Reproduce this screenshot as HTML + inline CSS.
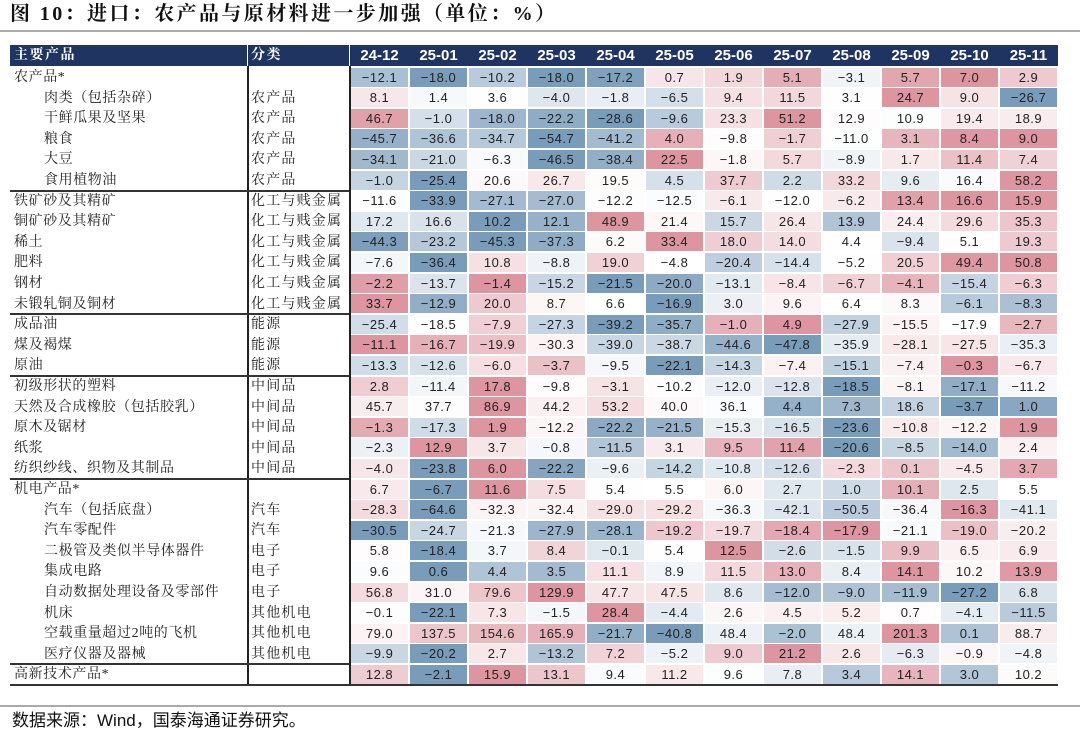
<!DOCTYPE html>
<html><head><meta charset="utf-8">
<style>
body{margin:0;width:1080px;height:733px;background:#fff;position:relative;overflow:hidden;font-family:"Liberation Sans","Noto Sans CJK SC",sans-serif;}
.a{position:absolute;}
.c{position:absolute;font-size:13px;line-height:20px;color:#222;white-space:nowrap;}
.n{text-align:center;letter-spacing:0.5px;}
.h{position:absolute;color:#fff;font-weight:bold;font-size:14px;line-height:21px;}
</style></head><body>
<div class="a" style="left:10px;top:1px;font-size:20px;letter-spacing:2.4px;font-weight:bold;line-height:27px;font-family:'Liberation Serif','Noto Serif CJK SC',serif;color:#111">图 10：进口：农产品与原材料进一步加强（单位：%）</div>
<div class="a" style="left:0;top:30px;width:1080px;height:2px;background:#aaa"></div>
<div class="a" id="tbl" style="left:0;top:0;width:1080px;height:733px"></div>
<div class="a" style="left:0;top:705px;width:1080px;height:2px;background:#aaa"></div>
<div class="a" style="left:12px;top:709px;font-size:17px;line-height:24px;color:#111">数据来源：Wind，国泰海通证券研究。</div>
<script>
const months=["24-12","25-01","25-02","25-03","25-04","25-05","25-06","25-07","25-08","25-09","25-10","25-11"];
const products=["农产品*","肉类（包括杂碎）","干鲜瓜果及坚果","粮食","大豆","食用植物油","铁矿砂及其精矿","铜矿砂及其精矿","稀土","肥料","钢材","未锻轧铜及铜材","成品油","煤及褐煤","原油","初级形状的塑料","天然及合成橡胶（包括胶乳）","原木及锯材","纸浆","纺织纱线、织物及其制品","机电产品*","汽车（包括底盘）","汽车零配件","二极管及类似半导体器件","集成电路","自动数据处理设备及零部件","机床","空载重量超过2吨的飞机","医疗仪器及器械","高新技术产品*"];
const indented=[false,true,true,true,true,true,false,false,false,false,false,false,false,false,false,false,false,false,false,false,false,true,true,true,true,true,true,true,true,false];
const categories=["","农产品","农产品","农产品","农产品","农产品","化工与贱金属","化工与贱金属","化工与贱金属","化工与贱金属","化工与贱金属","化工与贱金属","能源","能源","能源","中间品","中间品","中间品","中间品","中间品","","汽车","汽车","电子","电子","电子","其他机电","其他机电","其他机电",""];
const values=[
[-12.1,-18.0,-10.2,-18.0,-17.2,0.7,1.9,5.1,-3.1,5.7,7.0,2.9],
[8.1,1.4,3.6,-4.0,-1.8,-6.5,9.4,11.5,3.1,24.7,9.0,-26.7],
[46.7,-1.0,-18.0,-22.2,-28.6,-9.6,23.3,51.2,12.9,10.9,19.4,18.9],
[-45.7,-36.6,-34.7,-54.7,-41.2,4.0,-9.8,-1.7,-11.0,3.1,8.4,9.0],
[-34.1,-21.0,-6.3,-46.5,-38.4,22.5,-1.8,5.7,-8.9,1.7,11.4,7.4],
[-1.0,-25.4,20.6,26.7,19.5,4.5,37.7,2.2,33.2,9.6,16.4,58.2],
[-11.6,-33.9,-27.1,-27.0,-12.2,-12.5,-6.1,-12.0,-6.2,13.4,16.6,15.9],
[17.2,16.6,10.2,12.1,48.9,21.4,15.7,26.4,13.9,24.4,29.6,35.3],
[-44.3,-23.2,-45.3,-37.3,6.2,33.4,18.0,14.0,4.4,-9.4,5.1,19.3],
[-7.6,-36.4,10.8,-8.8,19.0,-4.8,-20.4,-14.4,-5.2,20.5,49.4,50.8],
[-2.2,-13.7,-1.4,-15.2,-21.5,-20.0,-13.1,-8.4,-6.7,-4.1,-15.4,-6.3],
[33.7,-12.9,20.0,8.7,6.6,-16.9,3.0,9.6,6.4,8.3,-6.1,-8.3],
[-25.4,-18.5,-7.9,-27.3,-39.2,-35.7,-1.0,4.9,-27.9,-15.5,-17.9,-2.7],
[-11.1,-16.7,-19.9,-30.3,-39.0,-38.7,-44.6,-47.8,-35.9,-28.1,-27.5,-35.3],
[-13.3,-12.6,-6.0,-3.7,-9.5,-22.1,-14.3,-7.4,-15.1,-7.4,-0.3,-6.7],
[2.8,-11.4,17.8,-9.8,-3.1,-10.2,-12.0,-12.8,-18.5,-8.1,-17.1,-11.2],
[45.7,37.7,86.9,44.2,53.2,40.0,36.1,4.4,7.3,18.6,-3.7,1.0],
[-1.3,-17.3,1.9,-12.2,-22.2,-21.5,-15.3,-16.5,-23.6,-10.8,-12.2,1.9],
[-2.3,12.9,3.7,-0.8,-11.5,3.1,9.5,11.4,-20.6,-8.5,-14.0,2.4],
[-4.0,-23.8,6.0,-22.2,-9.6,-14.2,-10.8,-12.6,-2.3,0.1,-4.5,3.7],
[6.7,-6.7,11.6,7.5,5.4,5.5,6.0,2.7,1.0,10.1,2.5,5.5],
[-28.3,-64.6,-32.3,-32.4,-29.0,-29.2,-36.3,-42.1,-50.5,-36.4,-16.3,-41.1],
[-30.5,-24.7,-21.3,-27.9,-28.1,-19.2,-19.7,-18.4,-17.9,-21.1,-19.0,-20.2],
[5.8,-18.4,3.7,8.4,-0.1,5.4,12.5,-2.6,-1.5,9.9,6.5,6.9],
[9.6,0.6,4.4,3.5,11.1,8.9,11.5,13.0,8.4,14.1,10.2,13.9],
[56.8,31.0,79.6,129.9,47.7,47.5,8.6,-12.0,-9.0,-11.9,-27.2,6.8],
[-0.1,-22.1,7.3,-1.5,28.4,-4.4,2.6,4.5,5.2,0.7,-4.1,-11.5],
[79.0,137.5,154.6,165.9,-21.7,-40.8,48.4,-2.0,48.4,201.3,0.1,88.7],
[-9.9,-20.2,2.7,-13.2,7.2,-5.2,9.0,21.2,2.6,-6.3,-0.9,-4.8],
[12.8,-2.1,15.9,13.1,9.4,11.2,9.6,7.8,3.4,14.1,3.0,10.2]];
const groupEnds=[5,11,14,19,28];

const T=document.getElementById('tbl');
const L=10,R=1058,V1=247,V2=349,D0=350,CW=(R-D0)/12,HT=45,HB=66,RH=20.6;
function rowY(i){return HB+1+i*RH;}
function colX(j){return D0+j*CW;}
const BLUE=[122,156,187],RED=[221,149,160],WHITE=[255,255,255];
function mix(a,b,t){return 'rgb('+a.map((v,k)=>Math.round(v+(b[k]-v)*t)).join(',')+')';}
function color(v,row){
  const s=[...row].sort((a,b)=>a-b);const mn=s[0],mx=s[s.length-1];
  const md=(s[5]+s[6])/2;
  if(v>=md){return mx>md?mix(WHITE,RED,(v-md)/(mx-md)):mix(WHITE,RED,0);}
  return mix(WHITE,BLUE,(md-v)/(md-mn));
}
function add(tag,css,name,text,cls){
  const e=document.createElement(tag);e.style.cssText=css;if(cls)e.className=cls;if(text!==undefined)e.textContent=text;
  
  
  T.appendChild(e);return e;
}
add('div',`position:absolute;left:${L}px;top:${HT}px;width:${R-L}px;height:${HB-HT}px;background:#1f3460`,'header-row');
add('div',`left:${L+4}px;top:${HT}px;font-size:14px;letter-spacing:1.5px;font-family:'Liberation Serif','Noto Serif CJK SC',serif`,'header-product','主要产品','h');
add('div',`left:${V1+4}px;top:${HT}px;font-size:14px;letter-spacing:1.5px;font-family:'Liberation Serif','Noto Serif CJK SC',serif`,'header-category','分类','h');
add('div',`position:absolute;left:${V1}px;top:${HT}px;width:1px;height:${HB-HT}px;background:#fff`,'header-divider');
add('div',`position:absolute;left:${V2}px;top:${HT}px;width:1px;height:${HB-HT}px;background:#fff`,'header-divider');
months.forEach((m,j)=>{
  add('div',`left:${colX(j)}px;width:${CW}px;top:${HT}px;text-align:center;font-size:15px`,'month-header',m,'h');
});
products.forEach((p,i)=>{
  const y=rowY(i);
  add('div',`left:${L+4+(indented[i]?30:0)}px;top:${y+1}px;font-size:14px;letter-spacing:0.6px;font-family:'Liberation Serif','Noto Serif CJK SC',serif`,'product-label',p,'c');
  add('div',`left:${V1+4}px;top:${y+1}px;font-size:14px;letter-spacing:1.2px;font-family:'Liberation Serif','Noto Serif CJK SC',serif`,'category-label',categories[i],'c');
  values[i].forEach((v,j)=>{
    add('div',`left:${colX(j)+1}px;top:${y+0.5}px;width:${CW-2}px;height:${RH-1.5}px;background:${color(v,values[i])}`,'heatmap-cell',v.toFixed(1).replace('-','−'),'c n');
  });
});
add('div',`position:absolute;left:${V1}px;top:${HB}px;width:1.5px;height:${rowY(30)-HB}px;background:#222`,'product-divider');
add('div',`position:absolute;left:${V2}px;top:${HB}px;width:1.5px;height:${rowY(30)-HB}px;background:#222`,'category-divider');
groupEnds.concat([29]).forEach(g=>{
  add('div',`position:absolute;left:${L}px;top:${rowY(g+1)-1}px;width:${V2-L}px;height:2px;background:#333`,'group-rule');
});
add('div',`position:absolute;left:${L}px;top:${rowY(30)-1}px;width:${R-L}px;height:2px;background:#333`,'table-bottom-rule');
</script>
</body></html>
